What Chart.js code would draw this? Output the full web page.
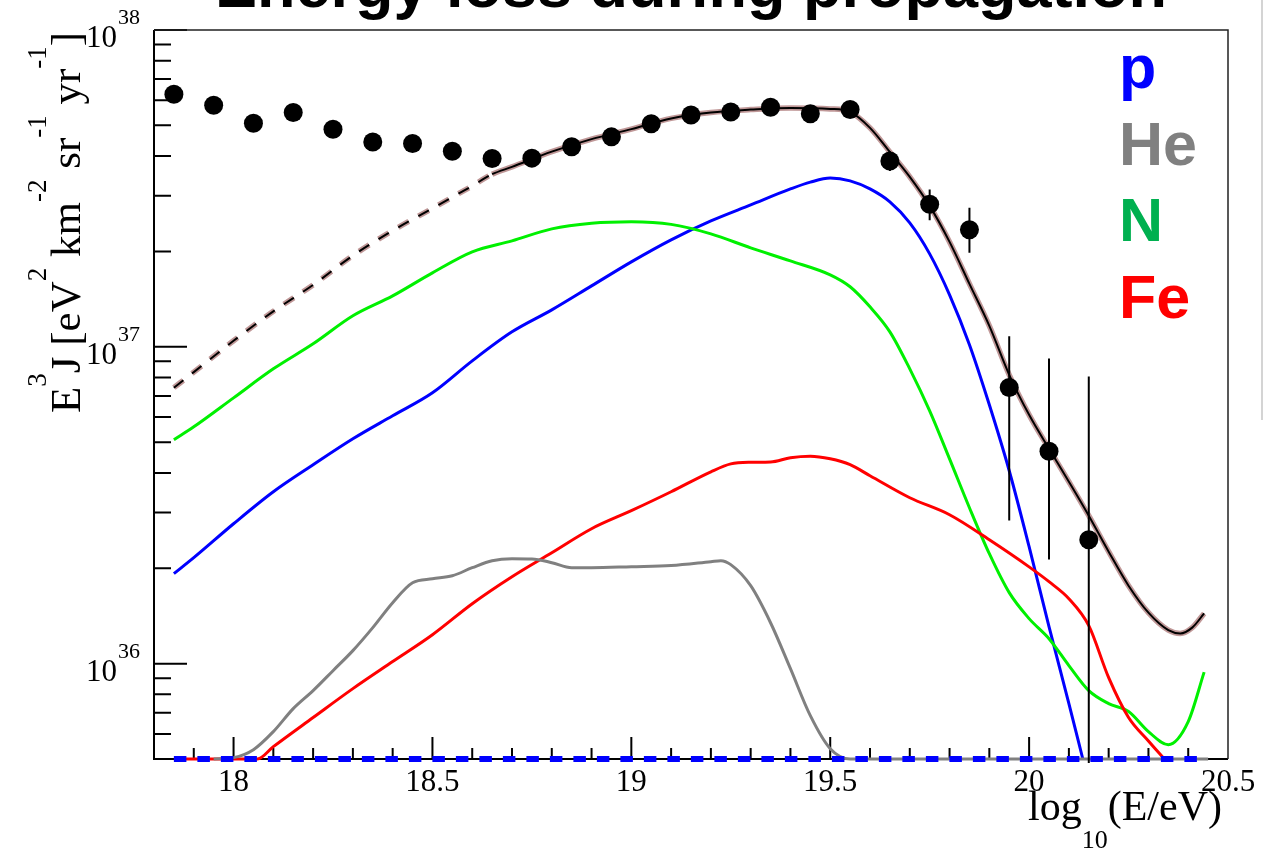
<!DOCTYPE html>
<html lang="en">
<head>
<meta charset="UTF-8">
<title>Energy loss during propagation</title>
<style>
  body { margin: 0; background: #fff; }
  .wrap { position: relative; width: 1266px; height: 850px; }
  .edge { position: absolute; left: 1261px; top: 0; width: 2px; height: 420px; background: #d4d4d4; }
</style>
</head>
<body>
<div class="wrap">
  <canvas id="spectrum" width="1266" height="850"></canvas>
  <div class="edge"></div>
</div>

<script src="https://cdn.jsdelivr.net/npm/chart.js"></script>
<script>
// measured spectrum, E^3 J in eV^2 km^-2 sr^-1 yr^-1
const dataLogE = [17.85, 17.95, 18.05, 18.15, 18.25, 18.35, 18.45, 18.55, 18.65, 18.75, 18.85, 18.95,
                  19.05, 19.15, 19.25, 19.35, 19.45, 19.55, 19.65, 19.75, 19.85, 19.95, 20.05, 20.15];
const dataFlux = [6.27e37, 5.79e37, 5.08e37, 5.49e37, 4.86e37, 4.43e37, 4.38e37, 4.14e37, 3.93e37, 3.94e37, 4.28e37, 4.60e37,
                  5.06e37, 5.39e37, 5.51e37, 5.70e37, 5.44e37, 5.61e37, 3.86e37, 2.82e37, 2.34e37, 7.44e36, 4.68e36, 2.46e36];
const dataErrHi = [null, null, null, null, null, null, null, null, null, null, null, null,
                   null, null, null, null, null, null, 4.15e37, 3.14e37, 2.75e37, 1.08e37, 9.19e36, 8.06e36];
const dataErrLo = [null, null, null, null, null, null, null, null, null, null, null, null,
                   null, null, null, null, null, null, 3.59e37, 2.51e37, 1.98e37, 2.83e36, 2.13e36, 1e35];

// total model flux (dashed below the fit range)
const totalLogE = [17.85, 17.9, 18.0, 18.1, 18.2, 18.3, 18.4, 18.5, 18.6, 18.65, 18.7, 18.8, 18.9, 19.0, 19.1, 19.2,
                   19.3, 19.4, 19.5, 19.55, 19.6, 19.65, 19.7, 19.75, 19.8, 19.85, 19.9, 19.95, 20.0, 20.05, 20.1,
                   20.15, 20.2, 20.25, 20.3, 20.35, 20.38, 20.41, 20.44];
const totalFlux = [7.43e36, 8.32e36, 1.045e37, 1.294e37, 1.568e37, 1.941e37, 2.327e37, 2.735e37, 3.221e37, 3.506e37,
                   3.697e37, 4.13e37, 4.524e37, 4.865e37, 5.259e37, 5.493e37, 5.607e37, 5.676e37, 5.636e37, 5.514e37,
                   4.91e37, 4.12e37, 3.44e37, 2.785e37, 2.144e37, 1.58e37, 1.165e37, 8.16e36, 6.10e36, 4.77e36,
                   3.75e36, 2.93e36, 2.256e36, 1.762e36, 1.448e36, 1.275e36, 1.245e36, 1.299e36, 1.44e36];
const fitStart = 18.65;

// protons
const pLogE = [17.85, 17.9, 18.0, 18.1, 18.2, 18.3, 18.4, 18.5, 18.6, 18.7, 18.8, 18.9, 19.0, 19.1, 19.2, 19.3,
               19.4, 19.45, 19.5, 19.55, 19.6, 19.65, 19.7, 19.75, 19.8, 19.85, 19.9, 19.95, 20.0, 20.05, 20.1, 20.135];
const pFlux = [1.923e36, 2.16e36, 2.764e36, 3.488e36, 4.244e36, 5.126e36, 6.06e36, 7.16e36, 9.03e36, 1.115e37,
               1.308e37, 1.557e37, 1.854e37, 2.176e37, 2.497e37, 2.805e37, 3.15e37, 3.31e37, 3.41e37, 3.34e37,
               3.15e37, 2.867e37, 2.461e37, 1.965e37, 1.459e37, 1.015e37, 6.56e36, 4.063e36, 2.339e36, 1.309e36,
               7.48e35, 5.0e35];

// helium
const heLogE = [17.95, 18.0, 18.05, 18.1, 18.15, 18.2, 18.25, 18.3, 18.35, 18.4, 18.45, 18.5, 18.55, 18.6, 18.65,
                18.7, 18.75, 18.8, 18.85, 18.9, 19.0, 19.1, 19.2, 19.225, 19.25, 19.3, 19.35, 19.4, 19.45, 19.5,
                19.55, 20.45];
const heFlux = [5.0e35, 5.05e35, 5.35e35, 6.10e35, 7.21e35, 8.22e35, 9.50e35, 1.099e36, 1.299e36, 1.557e36,
                1.80e36, 1.853e36, 1.894e36, 2.008e36, 2.113e36, 2.144e36, 2.14e36, 2.083e36, 2.008e36, 2.008e36,
                2.023e36, 2.04e36, 2.098e36, 2.113e36, 2.053e36, 1.762e36, 1.346e36, 9.64e35, 6.85e35, 5.39e35,
                5.0e35, 5.0e35];

// nitrogen
const nLogE = [17.85, 17.9, 18.0, 18.1, 18.2, 18.3, 18.4, 18.5, 18.6, 18.7, 18.8, 18.9, 19.0, 19.1, 19.2, 19.3,
               19.4, 19.5, 19.55, 19.6, 19.65, 19.7, 19.75, 19.8, 19.85, 19.9, 19.95, 20.0, 20.05, 20.1, 20.15,
               20.2, 20.25, 20.3, 20.35, 20.4, 20.44];
const nFlux = [5.09e36, 5.59e36, 6.90e36, 8.52e36, 1.022e37, 1.253e37, 1.448e37, 1.712e37, 1.994e37, 2.16e37,
               2.356e37, 2.453e37, 2.48e37, 2.435e37, 2.273e37, 2.053e37, 1.867e37, 1.687e37, 1.547e37, 1.337e37,
               1.115e37, 8.52e36, 6.28e36, 4.43e36, 3.105e36, 2.223e36, 1.675e36, 1.387e36, 1.199e36, 9.86e35,
               8.22e35, 7.48e35, 7.06e35, 6.10e35, 5.55e35, 6.56e35, 9.4e35];

// iron
const feLogE = [17.85, 18.06, 18.1, 18.2, 18.3, 18.4, 18.5, 18.6, 18.7, 18.8, 18.9, 19.0, 19.1, 19.2, 19.25, 19.3,
                19.35, 19.4, 19.45, 19.5, 19.55, 19.6, 19.7, 19.8, 19.9, 20.0, 20.05, 20.1, 20.15, 20.2, 20.25,
                20.3, 20.34];
const feFlux = [5.0e35, 5.0e35, 5.47e35, 6.76e35, 8.34e35, 1.015e36, 1.234e36, 1.546e36, 1.881e36, 2.239e36,
                2.666e36, 3.04e36, 3.488e36, 4.033e36, 4.27e36, 4.32e36, 4.33e36, 4.465e36, 4.514e36, 4.43e36,
                4.244e36, 3.918e36, 3.339e36, 2.951e36, 2.46e36, 2.02e36, 1.814e36, 1.603e36, 1.318e36, 9.03e35,
                6.76e35, 5.7e35, 5.0e35];

// component that stays below the plotted range
const floorLogE = [17.85, 20.44];
const floorFlux = [5e35, 5e35];

const legendNames = ['p', 'He', 'N', 'Fe'];
const legendColors = ['#0000ff', '#808080', '#00b050', '#ff0000'];

const xTickLabels = ['18', '18.5', '19', '19.5', '20', '20.5'];
const yDecades = [36, 37, 38];

const points = (xs, ys) => xs.map((x, i) => ({ x, y: ys[i] }));

const serif = '"Liberation Serif", "Times New Roman", serif';
const sans = '"Liberation Sans", Arial, sans-serif';

// draws a run of text pieces, each [text, 'sup' | 'sub' | undefined]
function drawPieces(ctx, pieces, x0, y0, size, small, raise, drop, dryRun) {
  let x = x0;
  for (const [txt, kind] of pieces) {
    ctx.font = (kind ? small : size) + 'px ' + serif;
    const dy = kind === 'sup' ? -raise : kind === 'sub' ? drop : 0;
    if (!dryRun) ctx.fillText(txt, x, y0 + dy);
    x += ctx.measureText(txt).width;
  }
  return x - x0;
}

const rootFrame = {
  id: 'rootFrame',
  beforeDatasetsDraw(chart) {
    const { ctx, chartArea: a, scales: { x, y } } = chart;
    ctx.save();
    ctx.strokeStyle = '#000';
    ctx.lineWidth = 2;
    ctx.beginPath();
    // x ticks every 0.1, long ones every 0.5
    for (let i = 179; i <= 204; i++) {
      const px = x.getPixelForValue(i / 10);
      const len = i % 5 === 0 ? 22 : 11;
      ctx.moveTo(px, a.bottom);
      ctx.lineTo(px, a.bottom - len);
    }
    // y ticks: decades long, 2..9 short
    for (let d = 35; d <= 38; d++) {
      for (let m = 1; m <= 9; m++) {
        const v = m * Math.pow(10, d);
        if (v < y.min * 0.999 || v > y.max * 1.001) continue;
        const py = y.getPixelForValue(v);
        ctx.moveTo(a.left, py);
        ctx.lineTo(a.left + (m === 1 ? 33 : 17), py);
      }
    }
    ctx.stroke();

    // left and bottom axes
    ctx.beginPath();
    ctx.moveTo(a.left, a.top);
    ctx.lineTo(a.left, a.bottom);
    ctx.lineTo(a.right, a.bottom);
    ctx.stroke();
    // top and right frame
    ctx.lineWidth = 1.5;
    ctx.strokeStyle = '#222';
    ctx.beginPath();
    ctx.moveTo(a.left, a.top);
    ctx.lineTo(a.right, a.top);
    ctx.lineTo(a.right, a.bottom);
    ctx.stroke();
    ctx.restore();
  },
  afterDatasetsDraw(chart) {
    const { ctx, chartArea: a, scales: { x, y } } = chart;
    ctx.save();
    ctx.beginPath();
    ctx.rect(a.left, a.top, a.right - a.left, a.bottom - a.top + 4);
    ctx.clip();
    ctx.strokeStyle = '#000';
    ctx.lineWidth = 2;
    ctx.beginPath();
    dataLogE.forEach((e, i) => {
      if (dataErrHi[i] == null) return;
      const px = x.getPixelForValue(e);
      ctx.moveTo(px, y.getPixelForValue(dataErrHi[i]));
      ctx.lineTo(px, y.getPixelForValue(dataErrLo[i]));
    });
    ctx.stroke();
    ctx.restore();
  },
  afterDraw(chart) {
    const { ctx, chartArea: a, scales: { x, y } } = chart;
    ctx.save();
    ctx.fillStyle = '#000';
    ctx.textBaseline = 'alphabetic';

    // title
    ctx.font = 'bold 63px ' + sans;
    ctx.textAlign = 'center';
    ctx.fillText('Energy loss during propagation', (a.left + a.right) / 2, 7);

    // x tick labels
    ctx.font = '31px ' + serif;
    xTickLabels.forEach(t => {
      ctx.fillText(t, x.getPixelForValue(parseFloat(t)), 791);
    });

    // y tick labels, 10 with exponent
    yDecades.forEach(d => {
      const py = y.getPixelForValue(Math.pow(10, d));
      ctx.textAlign = 'right';
      ctx.font = '31px ' + serif;
      ctx.fillText('10', 117, py + 17);
      ctx.textAlign = 'left';
      ctx.font = '22px ' + serif;
      ctx.fillText(String(d), 118, py - 6);
    });

    // x axis title, right aligned to the frame
    ctx.textAlign = 'left';
    const xTitle = [['log'], ['10', 'sub'], ['(E/eV)']];
    const w = drawPieces(ctx, xTitle, 0, 0, 42, 26, 0, 28, true);
    drawPieces(ctx, xTitle, 1222 - w, 820, 42, 26, 0, 28);

    // y axis title, rotated
    ctx.save();
    ctx.translate(80, 413);
    ctx.rotate(-Math.PI / 2);
    drawPieces(ctx, [['E'], ['3', 'sup'], ['J'], [' ['], ['eV'], ['2', 'sup'], [' km'], ['-2', 'sup'],
                     [' sr'], ['-1', 'sup'], [' yr'], ['-1', 'sup'], [']']], 0, 0, 43, 27, 34, 0);
    ctx.restore();

    // composition legend
    ctx.font = 'bold 61px ' + sans;
    legendNames.forEach((name, i) => {
      ctx.fillStyle = legendColors[i];
      ctx.fillText(name, 1119, 88 + i * 76.7);
    });
    ctx.restore();
  }
};

const below = { left: 0, top: 0, right: 0, bottom: 5 };
const lineStyle = (label, xs, ys, color, order) => ({
  label,
  data: points(xs, ys),
  borderColor: color,
  borderWidth: 3,
  pointRadius: 0,
  cubicInterpolationMode: 'monotone',
  clip: below,
  order
});

const fitDash = ctx => (ctx.p1.parsed.x <= fitStart ? [12, 11] : undefined);

new Chart(document.getElementById('spectrum'), {
  type: 'line',
  data: {
    datasets: [
      {
        label: 'below range',
        data: points(floorLogE, floorFlux),
        borderColor: '#0000ff',
        borderWidth: 6,
        borderDash: [12.5, 11],
        pointRadius: 0,
        clip: below,
        order: 0
      },
      {
        label: 'data',
        data: points(dataLogE, dataFlux),
        showLine: false,
        pointRadius: 9.5,
        pointBackgroundColor: '#000',
        pointBorderWidth: 0,
        clip: below,
        order: 1
      },
      {
        label: 'total',
        data: points(totalLogE, totalFlux),
        borderColor: '#000',
        borderWidth: 2,
        pointRadius: 0,
        cubicInterpolationMode: 'monotone',
        segment: { borderDash: fitDash },
        clip: below,
        order: 2
      },
      {
        label: 'total halo',
        data: points(totalLogE, totalFlux),
        borderColor: '#c09898',
        borderWidth: 5.5,
        pointRadius: 0,
        cubicInterpolationMode: 'monotone',
        segment: { borderDash: fitDash },
        clip: below,
        order: 3
      },
      lineStyle('He', heLogE, heFlux, '#808080', 4),
      lineStyle('Fe', feLogE, feFlux, '#ff0000', 5),
      lineStyle('N', nLogE, nFlux, '#00f000', 6),
      lineStyle('p', pLogE, pFlux, '#0000ff', 7)
    ]
  },
  options: {
    responsive: false,
    animation: false,
    events: [],
    layout: { padding: { left: 154, top: 30, right: 38, bottom: 91 } },
    scales: {
      x: { type: 'linear', min: 17.8, max: 20.5, display: false },
      y: { type: 'logarithmic', min: 5e35, max: 1e38, display: false }
    },
    plugins: {
      legend: { display: false },
      tooltip: { enabled: false }
    }
  },
  plugins: [rootFrame]
});
</script>
</body>
</html>
